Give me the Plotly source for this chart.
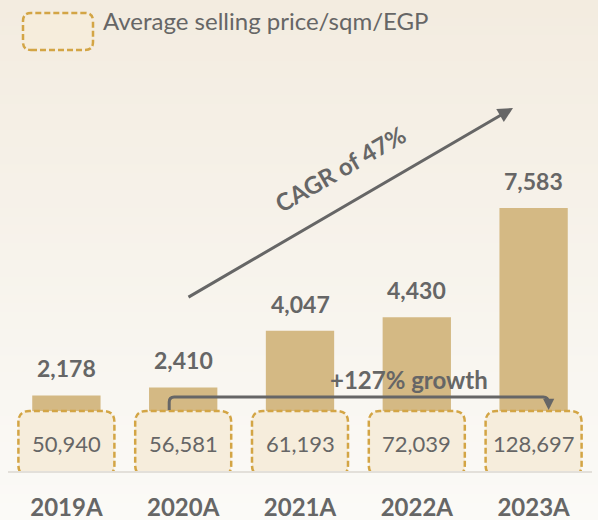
import plotly.graph_objects as go

categories = ["2019A", "2020A", "2021A", "2022A", "2023A"]
price_per_sqm = [50940, 56581, 61193, 72039, 128697]
volume_values = [2178, 2410, 4047, 4430, 7583]
legend_label = "Average selling price/sqm/EGP"
cagr_label = "CAGR of 47%"
growth_label = "+127% growth"

W, H = 598, 520
ML, MR, MT, MB = 8, 6, 20, 49
PW, PH = W - ML - MR, H - MT - MB
XSTEP = PW / 5.0
YSCALE = 263.0 / 7583.0          # px per unit
YMAX = PH / YSCALE

GREY = "#666666"
BAR = "#d4b984"
BOX_FILL = "#f6eddc"
BOX_LINE = "#d3a545"
FONT = "Lato"

def px2x(px):
    return (px - ML) / XSTEP - 0.5

def py2y(py):
    return (H - MB - py) / YSCALE

def px2paper(px):
    return (px - ML) / PW

def py2paper(py):
    return (H - MB - py) / PH

def fmt(v):
    return f"{v:,}"

def rounded_path(x0, y0, x1, y1, r):
    return (f"M{x0+r},{y0} L{x1-r},{y0} Q{x1},{y0} {x1},{y0+r} "
            f"L{x1},{y1-r} Q{x1},{y1} {x1-r},{y1} L{x0+r},{y1} "
            f"Q{x0},{y1} {x0},{y1-r} L{x0},{y0+r} Q{x0},{y0} {x0+r},{y0} Z")

xs = list(range(len(categories)))

fig = go.Figure()
fig.add_trace(go.Bar(
    x=xs, y=volume_values, width=0.585, marker=dict(color=BAR, line=dict(width=0)),
    hoverinfo="skip", showlegend=False,
))

shapes = []
top = (243, 236, 224)
bot = (251, 250, 247)
N = 60
for i in range(N):
    t = i / (N - 1)
    c = tuple(round(top[k] + (bot[k] - top[k]) * t) for k in range(3))
    y0 = i * H / N
    y1 = (i + 1) * H / N + 1
    shapes.append(dict(type="rect", xref="paper", yref="paper",
                       x0=px2paper(0), x1=px2paper(W),
                       y0=py2paper(y1), y1=py2paper(y0),
                       fillcolor=f"rgb{c}", line=dict(width=0), layer="below"))

for i in xs:
    shapes.append(dict(type="path", xref="x", yref="y",
                       xsizemode="pixel", ysizemode="pixel",
                       xanchor=i, yanchor=0,
                       path=rounded_path(-48, -5, 48, 60, 11),
                       fillcolor=BOX_FILL,
                       line=dict(color=BOX_LINE, width=2.5, dash="6px,3px"),
                       layer="above"))

shapes.append(dict(type="path", xref="paper", yref="paper",
                   xsizemode="pixel", ysizemode="pixel",
                   xanchor=px2paper(23), yanchor=py2paper(50),
                   path=rounded_path(0, 0, 70, 37, 8),
                   fillcolor=BOX_FILL,
                   line=dict(color=BOX_LINE, width=2.5, dash="6px,3px"),
                   layer="above"))

span = 365
shapes.append(dict(type="path", xref="x", yref="y",
                   xsizemode="pixel", ysizemode="pixel",
                   xanchor=1, yanchor=0,
                   path=(f"M-14,61 L-14,69 Q-14,74 -9,74 L{span-5},74 "
                         f"Q{span},74 {span},69 L{span},66"),
                   line=dict(color=GREY, width=3), layer="above"))

annotations = []
for i, v in zip(xs, volume_values):
    annotations.append(dict(x=i, y=v, xref="x", yref="y", text=f"<b>{fmt(v)}</b>",
                            showarrow=False, yanchor="middle", yshift=27,
                            font=dict(family=FONT, size=23, color=GREY)))
for i, v in zip(xs, price_per_sqm):
    annotations.append(dict(x=i, y=0, xref="x", yref="y", text=fmt(v),
                            showarrow=False, yanchor="middle", yshift=28,
                            font=dict(family=FONT, size=22, color=GREY)))

annotations.append(dict(x=px2paper(101), y=py2paper(21), xref="paper", yref="paper",
                        text=legend_label, showarrow=False, xanchor="left", yanchor="middle",
                        font=dict(family=FONT, size=24, color=GREY)))

annotations.append(dict(x=px2x(513), y=py2y(108), xref="x", yref="y",
                        ax=px2x(187), ay=py2y(298), axref="x", ayref="y",
                        text="", showarrow=True, arrowhead=2, arrowsize=1,
                        arrowwidth=3, arrowcolor=GREY, standoff=0))
annotations.append(dict(x=px2x(340), y=py2y(168), xref="x", yref="y",
                        text=f"<b>{cagr_label}</b>", showarrow=False, textangle=-30,
                        font=dict(family=FONT, size=24, color=GREY)))

annotations.append(dict(x=4, y=0, xref="x", yref="y", xshift=15, yshift=61,
                        ax=0, ay=-10, text="", showarrow=True, arrowhead=2,
                        arrowsize=0.75, arrowwidth=3, arrowcolor=GREY, standoff=0))
annotations.append(dict(x=px2x(409), y=py2y(379), xref="x", yref="y",
                        text=f"<b>{growth_label}</b>", showarrow=False,
                        font=dict(family=FONT, size=24, color=GREY)))

fig.update_layout(
    width=W, height=H,
    margin=dict(l=ML, r=MR, t=MT, b=MB, pad=0, autoexpand=False),
    paper_bgcolor="#f7f3ec", plot_bgcolor="rgba(0,0,0,0)",
    shapes=shapes, annotations=annotations,
    showlegend=False,
    xaxis=dict(range=[-0.5, 4.5], tickvals=xs, ticktext=[f"<b>{c}</b>" for c in categories],
               showline=True, linecolor="#e3e0da", linewidth=1.5, showgrid=False,
               zeroline=False, ticks="", ticklabelstandoff=14, automargin=False,
               tickfont=dict(family=FONT, size=24, color=GREY), fixedrange=True),
    yaxis=dict(range=[0, YMAX], visible=False, fixedrange=True, automargin=False),
)

fig.write_html("out.html",
               post_script="document.body.style.margin='0';document.body.style.padding='0';",
               config={"displayModeBar": False})
